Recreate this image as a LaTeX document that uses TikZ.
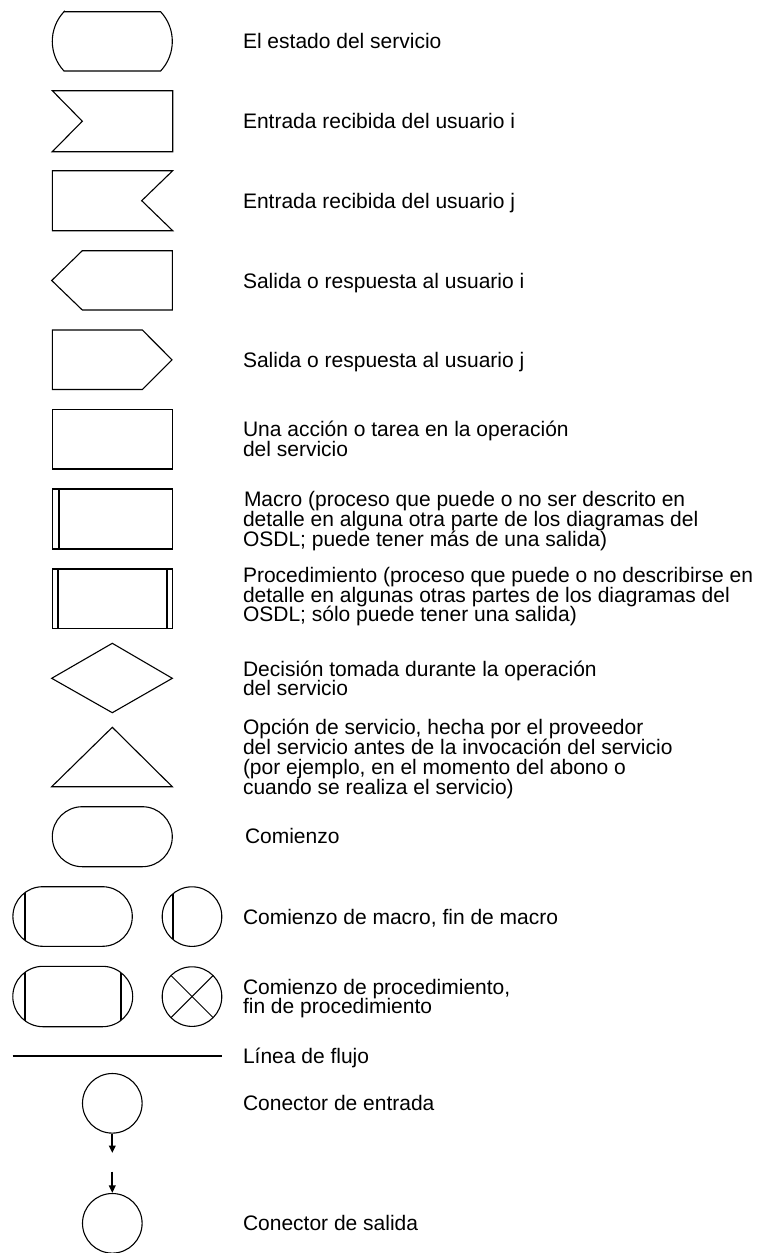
\documentclass[tikz,border=0pt]{standalone}
\usepackage{fontspec}
\setmainfont{Liberation Sans}
\usetikzlibrary{arrows.meta}
\tikzset{
  shp/.style={draw=black, line width=1.1pt, line join=miter},
  thk/.style={draw=black, line width=2pt},
  lbl/.style={anchor=base west, inner sep=0pt, outer sep=0pt, font=\fontsize{21}{19.7}\selectfont},
  conn/.style={circle, draw=black, line width=1.1pt, minimum size=59.6pt, inner sep=0pt},
  flowarrow/.style={line width=2pt, -{Triangle[length=7.5pt,width=6.5pt]}}
}
\begin{document}
\begin{tikzpicture}[x=1pt,y=-1pt]
\useasboundingbox (0,0) rectangle (759,1253);
% 1 state
\draw[shp] (64,11.7) -- (160.6,11.7) arc[start angle=-43.1, end angle=43.1, radius=43.4]
  -- (64,71) arc[start angle=136.9, end angle=223.1, radius=43.4] -- cycle;
% 2 input i
\draw[shp] (52.3,90.7) -- (172.7,90.7) -- (172.7,151.7) -- (52.3,151.7) -- (82.3,121.2) -- cycle;
% 3 input j
\draw[shp] (52.3,170.7) -- (172.7,170.7) -- (141.7,200.7) -- (172.7,230.7) -- (52.3,230.7) -- cycle;
% 4 output i
\draw[shp] (82.3,250.7) -- (172.3,250.7) -- (172.3,310) -- (82.3,310) -- (51.7,280.5) -- cycle;
% 5 output j
\draw[shp] (52.3,330) -- (142.3,330) -- (172,359.8) -- (142.3,389.5) -- (52.3,389.5) -- cycle;
% 6 task
\draw[shp] (52.3,409.3) rectangle (172.3,469);
% 7 macro
\draw[shp] (52.3,489) rectangle (172.3,549);
\draw[thk] (58.8,489) -- (58.8,549);
% 8 procedure
\draw[shp] (52.3,569) rectangle (172.3,628.5);
\draw[thk] (58.2,569) -- (58.2,628.5);
\draw[thk] (166.6,569) -- (166.6,628.5);
% 9 decision
\draw[shp] (51.7,678.3) -- (112.3,643.3) -- (172.3,678.3) -- (112.3,712.7) -- cycle;
% 10 option
\draw[shp] (112.3,727.3) -- (172.3,786.7) -- (51.7,786.7) -- cycle;
% 11 start
\draw[shp] (82.3,806.7) -- (142.3,806.7) arc[start angle=-90, end angle=90, radius=30]
  -- (82.3,866.7) arc[start angle=90, end angle=270, radius=30] -- cycle;
% 12 macro start / macro end
\draw[shp] (42.7,886.7) -- (102.5,886.7) arc[start angle=-90, end angle=90, radius=29.8]
  -- (42.7,946.3) arc[start angle=90, end angle=270, radius=29.8] -- cycle;
\begin{scope}
  \clip (42.7,886.7) -- (102.5,886.7) arc[start angle=-90, end angle=90, radius=29.8]
  -- (42.7,946.3) arc[start angle=90, end angle=270, radius=29.8] -- cycle;
  \draw[thk] (25.2,880) -- (25.2,955);
\end{scope}
\draw[shp] (192,916.6) circle[radius=29.8];
\begin{scope}
  \clip (192,916.6) circle[radius=29.8];
  \draw[thk] (172.9,880) -- (172.9,955);
\end{scope}
% 13 procedure start / procedure end
\draw[shp] (43,966.3) -- (102.5,966.3) arc[start angle=-90, end angle=90, radius=30.2]
  -- (43,1026.7) arc[start angle=90, end angle=270, radius=30.2] -- cycle;
\begin{scope}
  \clip (43,966.3) -- (102.5,966.3) arc[start angle=-90, end angle=90, radius=30.2]
  -- (43,1026.7) arc[start angle=90, end angle=270, radius=30.2] -- cycle;
  \draw[thk] (25.2,960) -- (25.2,1035);
  \draw[thk] (120.7,960) -- (120.7,1035);
\end{scope}
\draw[shp] (192,996.6) circle[radius=29.8];
\begin{scope}
  \clip (192,996.6) circle[radius=29.8];
  \draw[line width=0.9pt] (160,964.6) -- (224,1028.6);
  \draw[line width=0.9pt] (160,1028.6) -- (224,964.6);
\end{scope}
% 14 flow line
\draw[line width=2.3pt] (12.7,1055.7) -- (221.7,1055.7);
% 15/16 connectors
\node[conn] (cin) at (112.3,1103.3) {};
\coordinate (cinend) at (112.3,1153);
\draw[flowarrow] (cin.south) -- (cinend);
\node[conn] (cout) at (112.3,1223.3) {};
\coordinate (coutstart) at (112.3,1171.7);
\draw[flowarrow] (coutstart) -- (cout.north);
% labels
\node[lbl] (t1) at (243,48.9) {El estado del servicio};
\node[lbl] (t2) at (243,128.7) {Entrada recibida del usuario i};
\node[lbl] (t3) at (243,208.2) {Entrada recibida del usuario j};
\node[lbl] (t4) at (243,288) {Salida o respuesta al usuario i};
\node[lbl] (t5) at (243,367.5) {Salida o respuesta al usuario j};
\node[lbl] (t6a) at (243,436.8) {Una acción o tarea en la operación};
\node[lbl] (t6b) at (243,456.5) {del servicio};
\node[lbl] (t7a) at (244,506.8) {Macro (proceso que puede o no ser descrito en};
\node[lbl] (t7b) at (243,526.5) {detalle en alguna otra parte de los diagramas del};
\node[lbl] (t7c) at (243,546.2) {OSDL; puede tener más de una salida)};
\node[lbl] (t8a) at (243,582.5) {Procedimiento (proceso que puede o no describirse en};
\node[lbl] (t8b) at (243,602.2) {detalle en algunas otras partes de los diagramas del};
\node[lbl] (t8c) at (243,621.9) {OSDL; sólo puede tener una salida)};
\node[lbl] (t9a) at (243,676) {Decisión tomada durante la operación};
\node[lbl] (t9b) at (243,695.7) {del servicio};
\node[lbl] (t10a) at (243,734.9) {Opción de servicio, hecha por el proveedor};
\node[lbl] (t10b) at (243,754.6) {del servicio antes de la invocación del servicio};
\node[lbl] (t10c) at (243,774.3) {(por ejemplo, en el momento del abono o};
\node[lbl] (t10d) at (243,794) {cuando se realiza el servicio)};
\node[lbl] (t11) at (245,843) {Comienzo};
\node[lbl] (t12) at (243,924) {Comienzo de macro, fin de macro};
\node[lbl] (t13a) at (243,994.2) {Comienzo de procedimiento,};
\node[lbl] (t13b) at (243,1013.9) {fin de procedimiento};
\node[lbl] (t14) at (243,1063) {Línea de flujo};
\node[lbl] (t15) at (243,1110.8) {Conector de entrada};
\node[lbl] (t16) at (243,1230.8) {Conector de salida};
\end{tikzpicture}
\end{document}
